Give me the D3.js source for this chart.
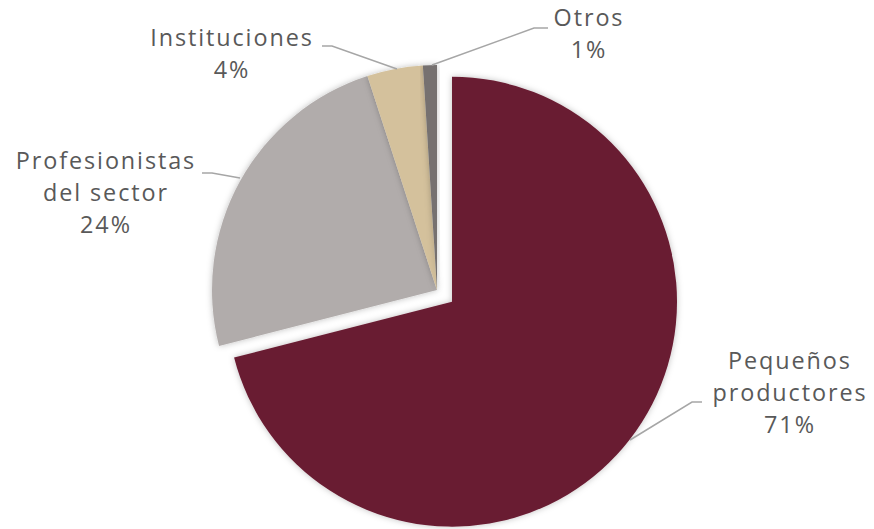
<!DOCTYPE html>
<html lang="es">
<head>
  <meta charset="UTF-8">
  <title>Pie</title>
  <style>
    body { margin: 0; background: #fff; }
    svg { display: block; }
    .lbl { font-family: "Open Sans", sans-serif; font-size: 23.4px; letter-spacing: 1.9px; fill: #595959; }
    .leader { fill: none; stroke: #a6a6a6; stroke-width: 1.5; }
  </style>
</head>
<body>
  <svg id="chart" width="874" height="529"></svg>

  <script src="https://cdn.jsdelivr.net/npm/d3@7"></script>
  <script>
    // data
    const categories = ["Pequeños productores", "Profesionistas del sector", "Instituciones", "Otros"];
    const values = [71, 24, 4, 1];
    const colors = ["#691c32", "#b1acab", "#d4c19c", "#767170"];
    const labelLines = [["Pequeños", "productores", "71%"], ["Profesionistas", "del sector", "24%"], ["Instituciones", "4%"], ["Otros", "1%"]];

    const svg = d3.select("#chart");
    const cx = 437, cy = 290, r = 225, explode = 19;

    // soft shadow around the slices
    const defs = svg.append("defs");
    defs.append("filter").attr("id", "shadow")
      .attr("x", "-20%").attr("y", "-20%").attr("width", "140%").attr("height", "140%")
      .append("feDropShadow")
      .attr("dx", 0).attr("dy", 0).attr("stdDeviation", 3)
      .attr("flood-color", "#000").attr("flood-opacity", 0.25);

    const pie = d3.pie().sort(null).value(d => d)(values);
    const arc = d3.arc().innerRadius(0).outerRadius(r);

    const g = svg.append("g").attr("transform", `translate(${cx},${cy})`);

    g.selectAll("path")
      .data(pie)
      .join("path")
      .attr("d", arc)
      .attr("fill", (d, i) => colors[i])
      .attr("filter", "url(#shadow)")
      .attr("transform", (d, i) => {
        if (i !== 0) return null;
        const a = (d.startAngle + d.endAngle) / 2;
        return `translate(${Math.sin(a) * explode},${-Math.cos(a) * explode})`;
      });

    // leader lines
    const leaders = [
      [[702, 402], [692, 402], [630, 440]],
      [[202, 173], [212, 173], [240, 178]],
      [[322, 46], [332, 46], [397, 69]],
      [[548, 28], [534, 28], [432, 65]]
    ];
    const line = d3.line();
    svg.selectAll("path.leader")
      .data(leaders)
      .join("path")
      .attr("class", "leader")
      .attr("d", line);

    // labels
    const labelPos = [[790, 369], [106, 169], [232, 46], [589, 26]];
    const lh = 32;
    labelLines.forEach((lines, i) => {
      const t = svg.append("text").attr("class", "lbl").attr("text-anchor", "middle");
      lines.forEach((s, j) => {
        t.append("tspan").attr("x", labelPos[i][0]).attr("y", labelPos[i][1] + j * lh).text(s);
      });
    });
  </script>
</body>
</html>
